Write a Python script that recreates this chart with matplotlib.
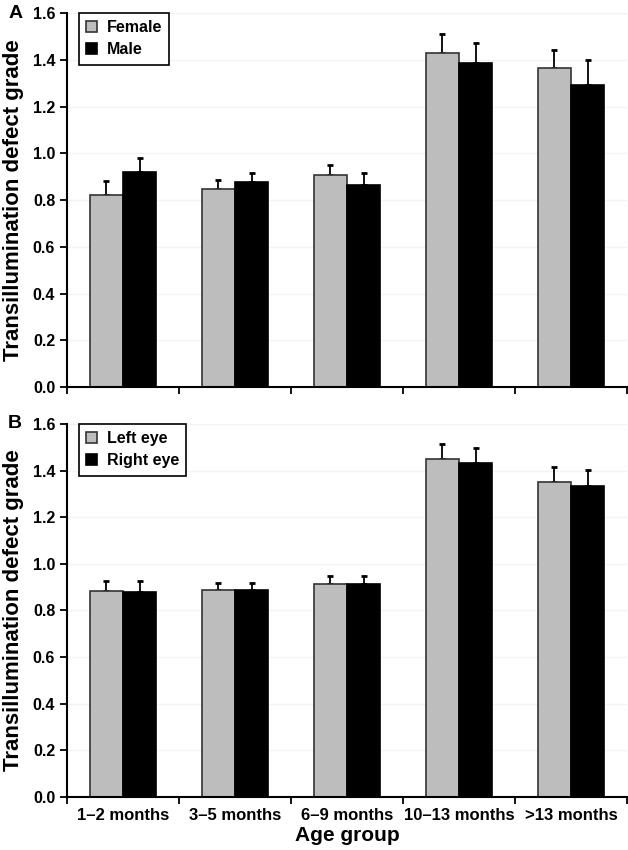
import numpy as np
import matplotlib
matplotlib.use("Agg")
import matplotlib.pyplot as plt

plt.rcParams['font.family'] = ['Liberation Sans', 'DejaVu Sans']
plt.rcParams['font.weight'] = 'bold'

# data
age_groups = ["1\u20132 months", "3\u20135 months", "6\u20139 months", "10\u201313 months", ">13 months"]

female = [0.82, 0.845, 0.905, 1.43, 1.365]
female_err = [0.06, 0.04, 0.045, 0.08, 0.075]
male = [0.92, 0.875, 0.865, 1.385, 1.29]
male_err = [0.06, 0.04, 0.05, 0.085, 0.11]

left_eye = [0.883, 0.886, 0.914, 1.449, 1.351]
left_err = [0.044, 0.03, 0.035, 0.064, 0.065]
right_eye = [0.880, 0.886, 0.912, 1.433, 1.336]
right_err = [0.047, 0.03, 0.036, 0.064, 0.065]

gray = '#bdbdbd'
bw = 0.295


def panel(ax, a, a_err, b, b_err, labels, letter, show_xlabels):
    x = np.arange(len(age_groups))
    ax.yaxis.grid(True, color='#f3f3f3', linewidth=1)
    ax.set_axisbelow(True)
    ax.bar(x - bw / 2, a, bw, color=gray, edgecolor='#333333', linewidth=1.2, label=labels[0], zorder=2)
    ax.bar(x + bw / 2, b, bw, color='black', edgecolor='black', linewidth=1.2, label=labels[1], zorder=2)
    ax.errorbar(x - bw / 2, a, yerr=[np.zeros(len(a)), a_err], fmt='none', ecolor='black',
                elinewidth=1.3, capsize=2.5, capthick=2, zorder=1)
    ax.errorbar(x + bw / 2, b, yerr=[np.zeros(len(b)), b_err], fmt='none', ecolor='black',
                elinewidth=1.3, capsize=2.5, capthick=2, zorder=1)

    ax.set_xlim(-0.5, 4.5)
    ax.set_ylim(0, 1.6)
    ax.set_yticks(np.arange(0, 1.61, 0.2))
    ax.set_yticklabels([f"{v:.1f}" for v in np.arange(0, 1.61, 0.2)], fontsize=11.5, fontweight='bold')
    ax.set_xticks(np.arange(-0.5, 4.6, 1.0))
    ax.set_xticklabels([])
    ax.set_xticks(x, minor=True)
    if show_xlabels:
        ax.set_xticklabels(age_groups, minor=True, fontsize=12, fontweight='bold')
    ax.tick_params(axis='x', which='minor', length=0, pad=8)
    ax.tick_params(axis='both', which='major', length=5, width=1.3, direction='out')
    for s in ['top', 'right']:
        ax.spines[s].set_visible(False)
    for s in ['left', 'bottom']:
        ax.spines[s].set_linewidth(1.5)
    ax.set_ylabel("Transillumination defect grade", fontsize=16, fontweight='bold', labelpad=6)
    ax.text(-0.105, 1.0, letter, transform=ax.transAxes, fontsize=14, fontweight='bold',
            ha='left', va='center')
    leg = ax.legend(loc='upper left', bbox_to_anchor=(0.021, 1.0), borderaxespad=0,
                    fancybox=False, edgecolor='black', framealpha=1,
                    prop={'size': 11.5, 'weight': 'bold'},
                    handlelength=0.7, handleheight=0.7, handletextpad=0.6,
                    borderpad=0.45, labelspacing=0.45)
    leg.get_frame().set_linewidth(1.2)


fig = plt.figure(figsize=(6.28, 8.5), dpi=100)
ax1 = fig.add_axes([0.1067, 0.5447, 0.8917, 0.44])
ax2 = fig.add_axes([0.1067, 0.0624, 0.8917, 0.4388])

panel(ax1, female, female_err, male, male_err, ["Female", "Male"], "A", False)
panel(ax2, left_eye, left_err, right_eye, right_err, ["Left eye", "Right eye"], "B", True)
ax2.set_xlabel("Age group", fontsize=15, fontweight='bold', labelpad=2)

plt.savefig("out.png", dpi=100)
